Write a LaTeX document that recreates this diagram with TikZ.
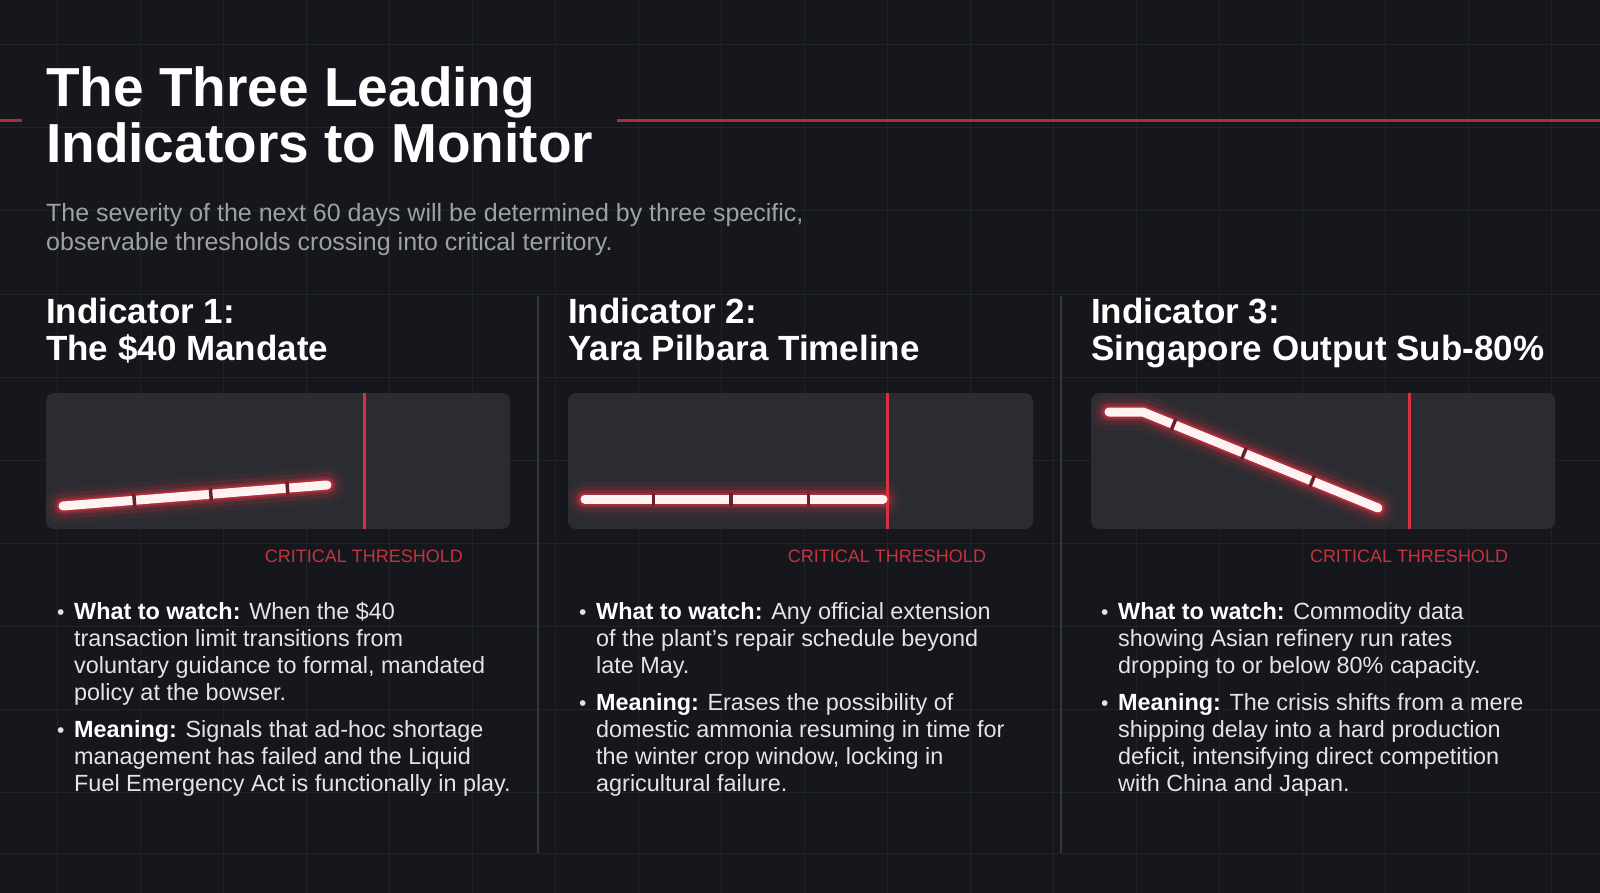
\documentclass[tikz,border=0pt]{standalone}
\usepackage{fontspec}
\setmainfont{Liberation Sans}
\definecolor{bgdark}{HTML}{15171C}
\definecolor{gridgray}{HTML}{20232A}
\definecolor{panelgray}{HTML}{2A2C31}
\definecolor{divgray}{HTML}{33363C}
\definecolor{threshred}{HTML}{D8303F}
\definecolor{labelred}{HTML}{C43340}
\definecolor{rulered}{HTML}{A9303A}
\definecolor{subgray}{HTML}{9EA0A7}
\definecolor{bodywhite}{HTML}{E4E4E6}
\definecolor{gapred}{HTML}{6B2028}
\definecolor{corewhite}{HTML}{FFF2F3}

\tikzset{
  maintitle/.style={anchor=base west, inner sep=0, align=left, text=white, font=\fontsize{55}{56}\selectfont\bfseries},
  subtitle/.style={anchor=base west, inner sep=0, align=left, text=subgray, font=\fontsize{25}{29}\selectfont},
  indhead/.style={anchor=base west, inner sep=0, align=left, text=white, font=\fontsize{35}{37}\selectfont\bfseries},
  critlabel/.style={anchor=base, inner sep=0, text=labelred, font=\fontsize{18}{18}\selectfont},
  itemtext/.style={anchor=base west, inner sep=0, align=left, text=bodywhite, font=\fontsize{23.4}{27}\selectfont},
  dot/.style={anchor=base west, inner sep=0, text=bodywhite, font=\fontsize{21}{27}\selectfont},
  panel/.style={fill=panelgray, rounded corners=8pt},
  thresh/.style={draw=threshred, line width=3pt},
  gridline/.style={draw=gridgray, line width=1pt},
  divider/.style={draw=divgray, line width=1.5pt},
  signal/.style={draw=corewhite, line width=9pt, line cap=round, line join=round,
    preaction={draw=threshred, opacity=.08, line width=36pt, line cap=round, line join=round},
    preaction={draw=threshred, opacity=.14, line width=26pt, line cap=round, line join=round},
    preaction={draw=threshred, opacity=.28, line width=18pt, line cap=round, line join=round},
    preaction={draw=threshred, opacity=.55, line width=13pt, line cap=round, line join=round}},
  gap/.style={fill=gapred, inner sep=0, minimum width=3.5pt, minimum height=13pt, sloped}
}
\newcommand{\lead}[1]{\textcolor{white}{\bfseries #1}}

\begin{document}
\begin{tikzpicture}[x=1pt,y=-1pt]
\fill[bgdark] (0,0) rectangle (1600,893);
\useasboundingbox (0,0) rectangle (1600,893);

\foreach \gx in {57,140,...,1600} \draw[gridline] (\gx,0) -- (\gx,893);
\foreach \gy in {45,128,...,850} \draw[gridline] (0,\gy) -- (1600,\gy);
\draw[gridline] (0,853) -- (1600,853);

\draw[rulered, line width=3pt] (0,121) -- (22,121);
\draw[rulered, line width=3pt] (617,121) -- (1600,121);

\node[maintitle] (title) at (46,163) {The Three Leading\\Indicators to Monitor};
\node[subtitle] (intro) at (46,251) {The severity of the next 60 days will be determined by three specific,\\observable thresholds crossing into critical territory.};

\draw[divider] (538,296) -- (538,853);
\draw[divider] (1061,296) -- (1061,853);

\node[indhead] (head1) at (46,360) {Indicator 1:\\The \$40 Mandate};
\node[indhead] (head2) at (568,360) {Indicator 2:\\Yara Pilbara Timeline};
\node[indhead] (head3) at (1091,360) {Indicator 3:\\Singapore Output Sub-80\%};

\fill[panel] (46,393) rectangle (510,529);
\fill[panel] (568,393) rectangle (1033,529);
\fill[panel] (1091,393) rectangle (1555,529);

\draw[thresh] (364,393) -- (364,529);
\draw[thresh] (887,393) -- (887,529);
\draw[thresh] (1409,393) -- (1409,529);

\coordinate (p1a) at (63,506);
\coordinate (p1b) at (327,485);
\draw[signal] (p1a) -- (p1b) node[gap,pos=.27]{} node[gap,pos=.56]{} node[gap,pos=.85]{};

\coordinate (p2a) at (585,499);
\coordinate (p2b) at (883,499);
\draw[signal] (p2a) -- (p2b) node[gap,pos=.23]{} node[gap,pos=.49]{} node[gap,pos=.75]{};

\coordinate (p3a) at (1109,412);
\coordinate (p3b) at (1143,412);
\coordinate (p3c) at (1378,508);
\draw[signal] (p3a) -- (p3b) -- (p3c) node[gap,pos=.13]{} node[gap,pos=.43]{} node[gap,pos=.72]{};

\node[critlabel] (crit1) at (364,562) {CRITICAL THRESHOLD};
\node[critlabel] (crit2) at (887,562) {CRITICAL THRESHOLD};
\node[critlabel] (crit3) at (1409,562) {CRITICAL THRESHOLD};

\node[dot] (dot1a) at (57,619) {•};
\node[itemtext] (watch1) at (74,700) {\lead{What to watch:} When the \$40\\transaction limit transitions from\\voluntary guidance to formal, mandated\\policy at the bowser.};
\node[dot] (dot1b) at (57,737) {•};
\node[itemtext] (mean1) at (74,791) {\lead{Meaning:} Signals that ad-hoc shortage\\management has failed and the Liquid\\Fuel Emergency Act is functionally in play.};

\node[dot] (dot2a) at (579,619) {•};
\node[itemtext] (watch2) at (596,673) {\lead{What to watch:} Any official extension\\of the plant's repair schedule beyond\\late May.};
\node[dot] (dot2b) at (579,710) {•};
\node[itemtext] (mean2) at (596,791) {\lead{Meaning:} Erases the possibility of\\domestic ammonia resuming in time for\\the winter crop window, locking in\\agricultural failure.};

\node[dot] (dot3a) at (1101,619) {•};
\node[itemtext] (watch3) at (1118,673) {\lead{What to watch:} Commodity data\\showing Asian refinery run rates\\dropping to or below 80\% capacity.};
\node[dot] (dot3b) at (1101,710) {•};
\node[itemtext] (mean3) at (1118,791) {\lead{Meaning:} The crisis shifts from a mere\\shipping delay into a hard production\\deficit, intensifying direct competition\\with China and Japan.};
\end{tikzpicture}
\end{document}
